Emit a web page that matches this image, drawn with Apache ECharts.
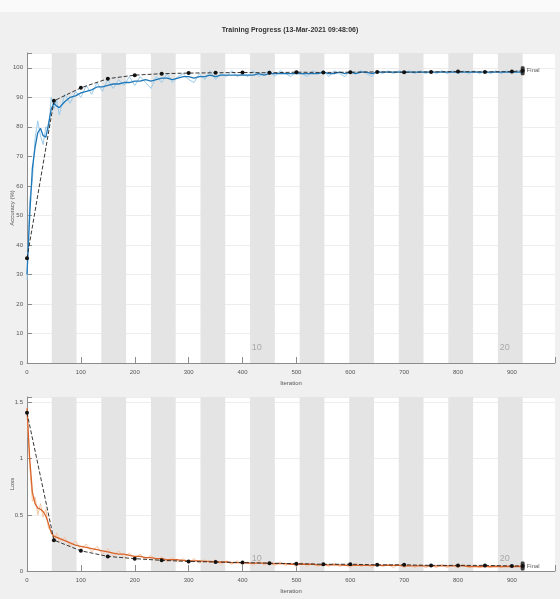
<!DOCTYPE html>
<html>
<head>
<meta charset="utf-8">
<script src="https://cdn.jsdelivr.net/npm/echarts@6/dist/echarts.min.js"></script>
<style>
  html, body { margin: 0; padding: 0; background: #f0f0f0; }
  #chart { width: 560px; height: 599px; }
</style>
</head>
<body>
<div id="chart"></div>
<script>
// training iterations (sampled)
const trainIter = [0, 5, 10, 15, 20, 25, 30, 35, 40, 45, 50, 55, 60,
  70, 80, 90, 100, 110, 120, 130, 140, 150, 160, 170, 180, 190, 200, 210, 220, 230, 240, 250, 260, 270, 280, 290,
  300, 310, 320, 330, 340, 350, 360, 370, 380, 390, 400, 410, 420, 430, 440, 450, 460, 470, 480, 490,
  500, 510, 520, 530, 540, 550, 560, 570, 580, 590, 600, 610, 620, 630, 640, 650, 660, 670, 680, 690,
  700, 710, 720, 730, 740, 750, 760, 770, 780, 790, 800, 810, 820, 830, 840, 850, 860, 870, 880, 890,
  900, 910, 920];
const accSmooth = [30, 50, 66, 73, 78, 79.5, 77, 76.5, 81, 86, 88, 87, 86.5,
  88.5, 90, 90.5, 91.5, 92, 92.5, 93.5, 93.5, 94, 94.5, 94.5, 95, 95, 95.5, 95.5, 96, 95.5, 96, 96.5, 96.5, 96, 96.5, 97,
  97, 96.5, 97, 97, 97.5, 97, 97.5, 97.5, 97.5, 97.5, 97.5, 97.5, 97.5, 98, 97.5, 98, 98, 98, 98, 98,
  98, 98, 98, 98, 98, 98.5, 98, 98, 98.5, 98, 98.5, 98, 98.5, 98.5, 98, 98.5, 98.5, 98.5, 98.5, 98.5,
  98.5, 98.5, 98.5, 98.5, 98.5, 98.5, 98.5, 98.5, 98.5, 98.5, 98.5, 98.5, 98.5, 98.5, 98.5, 98.5, 98.5, 98.5, 98.5, 98.5,
  98.5, 98.5, 98.5];
const accRaw = [28, 55, 62, 76, 82, 77, 74, 80, 79, 90, 86, 89, 84,
  91, 88, 92, 90, 94, 91, 95, 92, 96, 93, 96, 94, 97, 94, 97, 95, 93, 97, 95, 98, 95, 97, 98,
  96, 95, 98, 96, 99, 96, 98, 97, 99, 97, 98, 97, 99, 97, 98, 99, 97, 99, 98, 97,
  99, 98, 97, 99, 98, 99, 97, 99, 98, 97, 99, 98, 99, 98, 97, 99, 98, 99, 98, 99,
  98, 99, 98, 99, 98, 99, 98, 99, 98, 99, 98, 99, 98, 99, 98, 99, 98, 99, 98, 99,
  98, 99, 98.5];
const lossSmooth = [1.45, 1.0, 0.7, 0.6, 0.56, 0.55, 0.53, 0.49, 0.42, 0.34, 0.31, 0.3, 0.29,
  0.27, 0.25, 0.23, 0.22, 0.21, 0.2, 0.19, 0.18, 0.17, 0.16, 0.15, 0.15, 0.14, 0.13, 0.13, 0.12, 0.12, 0.11, 0.11, 0.1, 0.1, 0.1, 0.095,
  0.09, 0.09, 0.09, 0.085, 0.085, 0.08, 0.08, 0.08, 0.075, 0.075, 0.075, 0.07, 0.07, 0.07, 0.07, 0.065, 0.065, 0.065, 0.065, 0.06,
  0.06, 0.06, 0.06, 0.06, 0.055, 0.055, 0.055, 0.055, 0.055, 0.05, 0.05, 0.05, 0.05, 0.05, 0.05, 0.05, 0.05, 0.05, 0.05, 0.05,
  0.045, 0.045, 0.045, 0.045, 0.045, 0.045, 0.045, 0.045, 0.045, 0.045, 0.045, 0.045, 0.04, 0.04, 0.04, 0.04, 0.04, 0.04, 0.04, 0.04,
  0.04, 0.04, 0.04];
const lossRaw = [1.42, 0.95, 0.62, 0.66, 0.5, 0.6, 0.48, 0.55, 0.38, 0.36, 0.27, 0.34, 0.26,
  0.3, 0.22, 0.27, 0.19, 0.24, 0.17, 0.22, 0.15, 0.2, 0.13, 0.18, 0.12, 0.16, 0.11, 0.15, 0.1, 0.14, 0.09, 0.13, 0.08, 0.12, 0.08, 0.11,
  0.07, 0.11, 0.07, 0.1, 0.07, 0.1, 0.06, 0.09, 0.06, 0.09, 0.06, 0.08, 0.05, 0.09, 0.05, 0.08, 0.05, 0.08, 0.05, 0.07,
  0.04, 0.08, 0.04, 0.07, 0.04, 0.07, 0.04, 0.07, 0.04, 0.06, 0.03, 0.07, 0.04, 0.06, 0.03, 0.06, 0.04, 0.06, 0.03, 0.06,
  0.03, 0.06, 0.03, 0.06, 0.03, 0.05, 0.03, 0.06, 0.03, 0.05, 0.03, 0.06, 0.03, 0.05, 0.03, 0.05, 0.03, 0.05, 0.03, 0.05,
  0.03, 0.05, 0.04];

// validation checkpoints
const valIter = [0, 50, 100, 150, 200, 250, 300, 350, 400, 450, 500, 550, 600, 650, 700, 750, 800, 850, 900, 920];
const valAcc = [35.5, 88.8, 93.2, 96.3, 97.5, 98, 98.2, 98.3, 98.4, 98.3, 98.5, 98.4, 98.5, 98.6, 98.5, 98.6, 98.7, 98.6, 98.7, 99];
const valLoss = [1.41, 0.275, 0.18, 0.13, 0.11, 0.095, 0.085, 0.08, 0.075, 0.07, 0.065, 0.06, 0.06, 0.055, 0.055, 0.05, 0.05, 0.05, 0.045, 0.045];

const itersPerEpoch = 46;
const numEpochs = 20;
const epochLabels = ['10', '20'];
const accTicks = [0, 10, 20, 30, 40, 50, 60, 70, 80, 90, 100];
const lossTicks = [0, 0.5, 1, 1.5];

const zip = (xs, ys) => xs.map((x, i) => [x, ys[i]]);

// grey bands for even epochs
const bands = [];
for (let e = 1; e < numEpochs; e += 2) {
  bands.push([{xAxis: e * itersPerEpoch}, {xAxis: (e + 1) * itersPerEpoch}]);
}

const axisGrey = '#8c8c8c';
const labelFont = {fontSize: 6, color: '#555', fontFamily: 'Liberation Sans Narrow, Liberation Sans, sans-serif'};

function xAxisCfg(gi) {
  return {
    type: 'value', gridIndex: gi, min: 0, max: 980, interval: 100,
    name: 'Iteration', nameLocation: 'middle', nameGap: 17,
    nameTextStyle: {fontSize: 6, color: '#555'},
    axisLine: {show: true, lineStyle: {color: axisGrey}},
    axisTick: {show: true, inside: true, length: 6, lineStyle: {color: axisGrey}},
    axisLabel: {...labelFont, margin: 6, formatter: v => (v % 100 === 0 ? String(v) : '')},
    splitLine: {show: false}
  };
}

function yName(text) {
  return {
    name: text, nameLocation: 'middle', nameGap: 12, nameRotate: 90, nameMoveOverlap: false,
    nameTextStyle: {fontSize: 6, color: '#555'}
  };
}

function bandSeries(xi, yi) {
  return {
    type: 'line', xAxisIndex: xi, yAxisIndex: yi, data: [], silent: true, z: 0,
    markArea: {silent: true, itemStyle: {color: '#e4e4e4'}, data: bands}
  };
}

function epochSeries(xi, yi, yVal) {
  return {
    type: 'scatter', xAxisIndex: xi, yAxisIndex: yi, symbolSize: 0, silent: true,
    data: epochLabels.map(l => [Number(l) * itersPerEpoch, yVal]),
    label: {show: true, formatter: p => epochLabels[p.dataIndex], position: 'top',
      offset: [-18, 0], fontSize: 9, color: '#999'}
  };
}

const chart = echarts.init(document.getElementById('chart'));
chart.setOption({
  backgroundColor: '#f0f0f0',
  animation: false,
  title: {
    text: 'Training Progress (13-Mar-2021 09:48:06)',
    left: 285, top: 22, textAlign: 'center',
    textStyle: {fontSize: 7, fontWeight: 'bold', color: '#333', fontFamily: 'Liberation Sans Narrow, Liberation Sans, sans-serif'}
  },
  graphic: [{type: 'rect', left: 0, top: 0, shape: {width: 560, height: 12}, style: {fill: '#fafafa'}, silent: true}],
  grid: [
    {left: 27, right: 5, top: 53, bottom: 236, show: true, backgroundColor: '#fff', borderWidth: 0,
      containLabel: false, outerBoundsMode: 'none'},
    {left: 27, right: 5, top: 397, bottom: 28, show: true, backgroundColor: '#fff', borderWidth: 0,
      containLabel: false, outerBoundsMode: 'none'}
  ],
  xAxis: [xAxisCfg(0), xAxisCfg(1)],
  yAxis: [
    {
      type: 'value', gridIndex: 0, min: 0, max: 105, interval: 10,
      ...yName('Accuracy (%)'),
      axisLine: {show: true, lineStyle: {color: axisGrey}},
      axisTick: {show: true, inside: true, length: 5, lineStyle: {color: axisGrey}},
      axisLabel: {...labelFont, margin: 4, formatter: v => (accTicks.includes(v) ? String(v) : '')},
      splitLine: {show: true, lineStyle: {color: '#e8e8e8', width: 0.8}}
    },
    {
      type: 'value', gridIndex: 1, min: 0, max: 1.55, interval: 0.5,
      ...yName('Loss'),
      axisLine: {show: true, lineStyle: {color: axisGrey}},
      axisTick: {show: true, inside: true, length: 5, lineStyle: {color: axisGrey}},
      axisLabel: {...labelFont, margin: 4, formatter: v => (lossTicks.includes(v) ? String(v) : '')},
      splitLine: {show: true, lineStyle: {color: '#e8e8e8', width: 0.8}}
    }
  ],
  series: [
    bandSeries(0, 0),
    bandSeries(1, 1),
    // accuracy
    {type: 'line', xAxisIndex: 0, yAxisIndex: 0, data: zip(trainIter, accRaw), showSymbol: false,
      lineStyle: {color: '#9ccbeb', width: 1}, z: 2},
    {type: 'line', xAxisIndex: 0, yAxisIndex: 0, data: zip(trainIter, accSmooth), showSymbol: false,
      lineStyle: {color: '#1f78b8', width: 1.3}, z: 3},
    {type: 'line', xAxisIndex: 0, yAxisIndex: 0, data: zip(valIter, valAcc), symbol: 'circle', symbolSize: 4,
      itemStyle: {color: '#111'}, lineStyle: {color: '#222', width: 0.9, type: [4, 2]}, z: 4},
    {type: 'scatter', xAxisIndex: 0, yAxisIndex: 0, data: [[valIter[valIter.length - 1], valAcc[valAcc.length - 1]]],
      symbol: 'roundRect', symbolSize: [4, 9], itemStyle: {color: '#111'}, z: 5,
      label: {show: true, formatter: 'Final', position: 'right', distance: 2, fontSize: 6, color: '#333'}},
    // loss
    {type: 'line', xAxisIndex: 1, yAxisIndex: 1, data: zip(trainIter, lossRaw), showSymbol: false,
      lineStyle: {color: '#f6c4a2', width: 1}, z: 2},
    {type: 'line', xAxisIndex: 1, yAxisIndex: 1, data: zip(trainIter, lossSmooth), showSymbol: false,
      lineStyle: {color: '#d9642a', width: 1.3}, z: 3},
    {type: 'line', xAxisIndex: 1, yAxisIndex: 1, data: zip(valIter, valLoss), symbol: 'circle', symbolSize: 4,
      itemStyle: {color: '#111'}, lineStyle: {color: '#222', width: 0.9, type: [4, 2]}, z: 4},
    {type: 'scatter', xAxisIndex: 1, yAxisIndex: 1, data: [[valIter[valIter.length - 1], valLoss[valLoss.length - 1]]],
      symbol: 'roundRect', symbolSize: [4, 9], itemStyle: {color: '#111'}, z: 5,
      label: {show: true, formatter: 'Final', position: 'right', distance: 2, fontSize: 6, color: '#333'}},
    epochSeries(0, 0, 2),
    epochSeries(1, 1, 0.03)
  ]
});
</script>
</body>
</html>
